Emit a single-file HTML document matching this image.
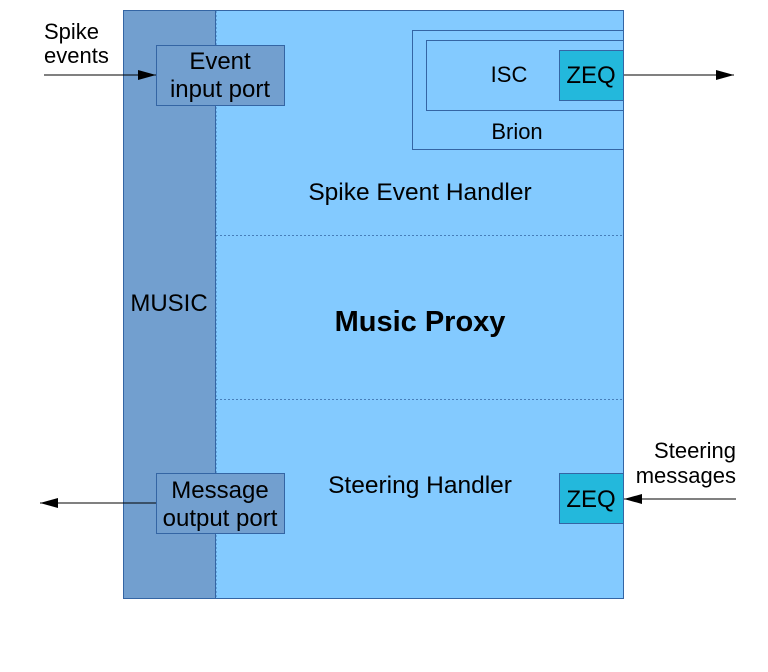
<!DOCTYPE html>
<html><head><meta charset="utf-8"><style>
html,body{margin:0;padding:0;background:#fff;}
svg{display:block;font-family:"Liberation Sans",sans-serif;}
</style></head><body>
<svg width="768" height="672" viewBox="0 0 768 672" xmlns="http://www.w3.org/2000/svg">
<defs>
<marker id="ah2" markerWidth="18" markerHeight="10" refX="18" refY="5" orient="auto" markerUnits="userSpaceOnUse">
<path d="M0,0 L18,5 L0,10 z" fill="#000"/></marker>
</defs>
<rect x="123.5" y="10.5" width="500" height="588" fill="#83caff" stroke="#3465a4"/>
<rect x="123.5" y="10.5" width="92" height="588" fill="#729fcf" stroke="#3465a4"/>
<line x1="216" y1="11" x2="216" y2="598" stroke="#3465a4" stroke-dasharray="2,2" stroke-width="0.8"/>
<line x1="216" y1="235.5" x2="623" y2="235.5" stroke="#3465a4" stroke-dasharray="2,2" stroke-width="0.8"/>
<line x1="216" y1="399.5" x2="623" y2="399.5" stroke="#3465a4" stroke-dasharray="2,2" stroke-width="0.8"/>
<rect x="412.5" y="30.5" width="211" height="119" fill="#83caff" stroke="#3465a4"/>
<rect x="426.5" y="40.5" width="197" height="70" fill="#83caff" stroke="#3465a4"/>
<rect x="559.5" y="50.5" width="64" height="50" fill="#23b8dc" stroke="#3465a4"/>
<rect x="559.5" y="473.5" width="64" height="50" fill="#23b8dc" stroke="#3465a4"/>
<rect x="156.5" y="45.5" width="128" height="60" fill="#729fcf" stroke="#3465a4"/>
<rect x="156.5" y="473.5" width="128" height="60" fill="#729fcf" stroke="#3465a4"/>
<line x1="44" y1="75" x2="156" y2="75" stroke="#000" marker-end="url(#ah2)"/>
<line x1="624" y1="75" x2="734" y2="75" stroke="#000" marker-end="url(#ah2)"/>
<line x1="156" y1="503" x2="40" y2="503" stroke="#000" marker-end="url(#ah2)"/>
<line x1="736" y1="499" x2="624" y2="499" stroke="#000" marker-end="url(#ah2)"/>
<g font-size="22" fill="#000">
<text x="44" y="39">Spike</text>
<text x="44" y="63">events</text>
<text x="220" y="69" text-anchor="middle" font-size="24">Event</text>
<text x="220" y="97" text-anchor="middle" font-size="24">input port</text>
<text x="509" y="82" text-anchor="middle">ISC</text>
<text x="591" y="83" text-anchor="middle" font-size="24">ZEQ</text>
<text x="517" y="139" text-anchor="middle">Brion</text>
<text x="420" y="200" text-anchor="middle" font-size="24.5">Spike Event Handler</text>
<text x="169" y="311" text-anchor="middle" font-size="24">MUSIC</text>
<text x="420" y="331" text-anchor="middle" font-size="29" font-weight="bold">Music Proxy</text>
<text x="420" y="493" text-anchor="middle" font-size="24.5">Steering Handler</text>
<text x="591" y="507" text-anchor="middle" font-size="24">ZEQ</text>
<text x="220" y="498" text-anchor="middle" font-size="24">Message</text>
<text x="220" y="526" text-anchor="middle" font-size="24">output port</text>
<text x="736" y="458" text-anchor="end">Steering</text>
<text x="736" y="483" text-anchor="end">messages</text>
</g>
</svg>
</body></html>
